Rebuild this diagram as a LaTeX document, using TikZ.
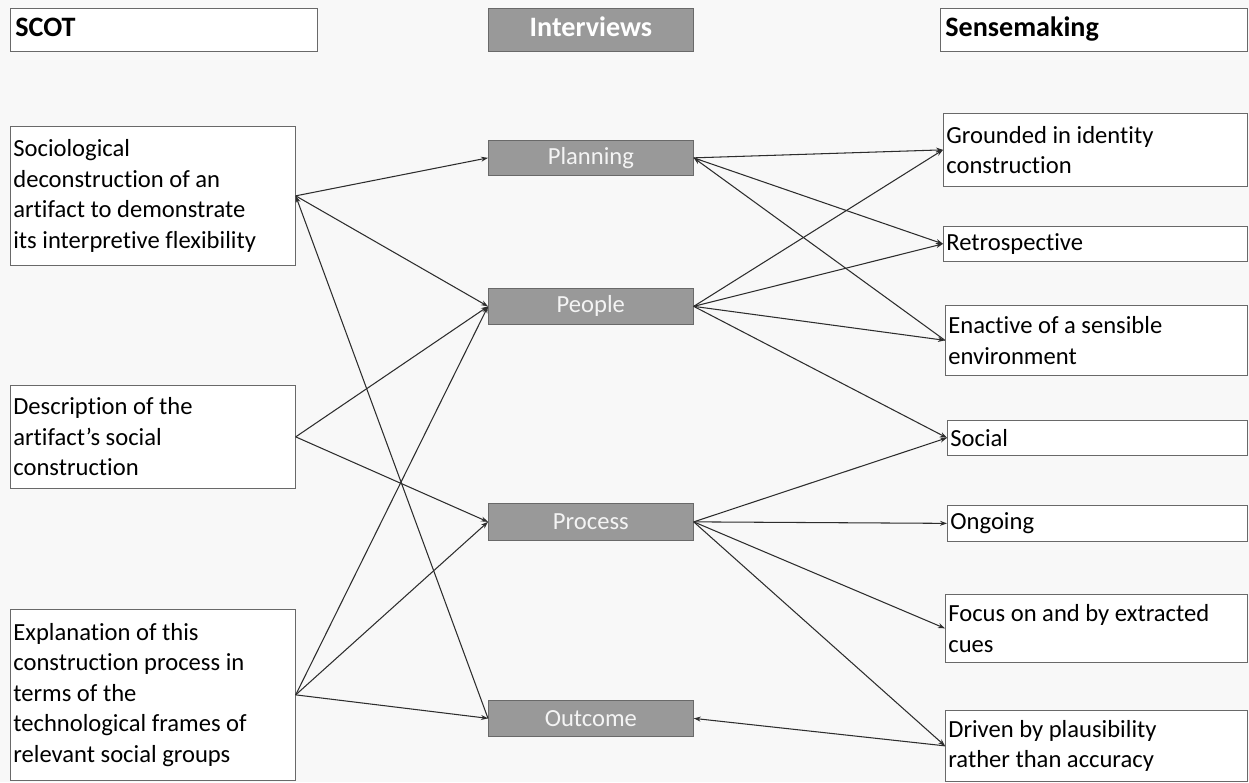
\documentclass[tikz,border=0pt]{standalone}
\usepackage{fontspec}
\setmainfont{Carlito}[Ligatures=NoCommon]
\usetikzlibrary{arrows.meta}
\definecolor{paper}{RGB}{248,248,248}
\definecolor{slate}{RGB}{153,153,153}
\definecolor{rim}{RGB}{105,105,105}
\definecolor{wire}{RGB}{45,45,45}
\definecolor{pale}{RGB}{244,244,244}
\tikzset{
  >={Stealth[length=1.4mm,width=1mm]},
  head/.style={draw=rim,fill=#1,anchor=north west,minimum height=8.4mm,
    inner sep=1mm,font=\fontsize{16}{19}\selectfont\bfseries},
  head/.default=white,
  note/.style={draw=rim,fill=white,anchor=north west,inner xsep=0.6mm,inner ysep=0mm,
    align=flush left,font=\fontsize{14}{17.4}\selectfont},
  theme/.style={draw=rim,fill=slate,anchor=north west,minimum width=41mm,
    text=pale,font=\fontsize{14}{17}\selectfont},
  link/.style={->,draw=wire,line width=0.6pt},
}
\begin{document}
\begin{tikzpicture}
  \useasboundingbox (0,0) rectangle (24.98,-15.64);
  \fill[paper] (0,0) rectangle (24.98,-15.64);
  % column headers
  \node[head,minimum width=61.4mm,text width=59.4mm,align=flush left] (scot) at (0.2,-0.16) {SCOT\strut};
  \node[head=slate,minimum width=41mm,text=white] (intv) at (9.76,-0.16) {Interviews\strut};
  \node[head,minimum width=61.4mm,text width=59.4mm,align=flush left] (sens) at (18.8,-0.16) {Sensemaking\strut};
  % SCOT
  \node[note,text width=5.58cm,minimum height=27.8mm] (s1) at (0.2,-2.52)
    {Sociological\\deconstruction of an\\artifact to demonstrate\\its interpretive flexibility};
  \node[note,text width=5.58cm,minimum height=20.6mm] (s2) at (0.2,-7.7)
    {Description of the\\artifact’s social\\construction};
  \node[note,text width=5.58cm,minimum height=34.2mm] (s3) at (0.2,-12.18)
    {Explanation of this\\construction process in\\terms of the\\technological frames of\\relevant social groups};
  % interviews
  \node[theme,minimum height=7mm] (plan) at (9.76,-2.8) {Planning};
  \node[theme,minimum height=7.2mm] (peop) at (9.76,-5.76) {People};
  \node[theme,minimum height=7.4mm] (proc) at (9.76,-10.06) {Process};
  \node[theme,minimum height=7.2mm] (outc) at (9.76,-14.0) {Outcome};
  % sensemaking
  \node[note,text width=5.96cm,minimum height=14.6mm] (grnd) at (18.86,-2.26)
    {Grounded in identity\\construction};
  \node[note,text width=5.96cm,minimum height=7mm] (retr) at (18.86,-4.52) {Retrospective};
  \node[note,text width=5.92cm,minimum height=14mm] (enac) at (18.9,-6.1)
    {Enactive of a sensible\\environment};
  \node[note,text width=5.88cm,minimum height=7mm] (socl) at (18.94,-8.4) {Social};
  \node[note,text width=5.88cm,minimum height=7.2mm] (ongo) at (18.94,-10.1) {Ongoing};
  \node[note,text width=5.92cm,minimum height=13.6mm] (focu) at (18.9,-11.88)
    {Focus on and by extracted\\cues};
  \node[note,text width=5.92cm,minimum height=14.2mm] (driv) at (18.9,-14.2)
    {Driven by plausibility\\rather than accuracy};
  % connectors
  \foreach \a/\b in {s1/plan,s1/peop,s2/peop,s2/proc,s3/peop,s3/proc,s3/outc,
      plan/grnd,plan/retr,peop/grnd,peop/retr,peop/enac,peop/socl,
      proc/socl,proc/ongo,proc/focu,proc/driv}
    \draw[link] (\a.east) -- (\b.west);
  \foreach \a/\b in {outc/s1,enac/plan,driv/outc}
    \draw[link] (\a.west) -- (\b.east);
\end{tikzpicture}
\end{document}
